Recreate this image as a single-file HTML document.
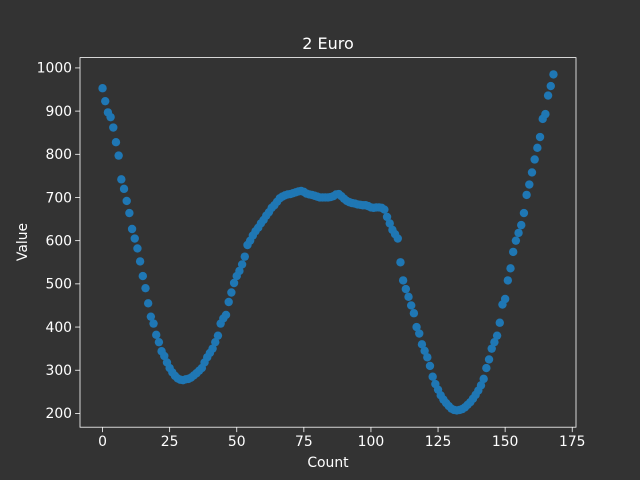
<!DOCTYPE html>
<html><head><meta charset="utf-8"><style>
html,body{margin:0;padding:0;background:#333333;}
svg{display:block;font-family:"DejaVu Sans","Liberation Sans",sans-serif;}
</style></head><body>
<svg id="chart" width="640" height="480" viewBox="0 0 640 480" xmlns="http://www.w3.org/2000/svg">
<rect x="0" y="0" width="640" height="480" fill="#333333"/>
<text x="328" y="49" fill="#ffffff" font-size="16" text-anchor="middle">2 Euro</text>
<g id="points"></g>
<g id="axes"></g>
<text x="328" y="467" fill="#ffffff" font-size="13.9" text-anchor="middle">Count</text>
<text x="27" y="242" fill="#ffffff" font-size="13.9" text-anchor="middle" transform="rotate(-90 27 242)">Value</text>
</svg>
<script>
const values = [953,923,897,886,862,828,797,742,720,692,664,627,605,582,552,518,490,455,424,408,382,365,344,333,318,305,295,287,281,278,277,279,280,283,288,293,299,305,318,330,340,350,365,380,408,420,428,458,480,502,518,530,545,563,590,600,612,622,630,640,648,658,666,676,682,690,698,702,705,707,708,710,712,714,715,713,709,707,706,704,702,700,700,700,700,701,703,707,708,703,697,692,689,687,686,684,683,682,682,680,677,676,677,677,676,672,655,640,625,615,605,550,508,488,470,450,432,400,385,360,345,330,310,285,268,255,242,232,224,217,211,208,207,208,210,214,220,226,234,243,253,265,280,305,325,350,365,380,410,452,465,508,536,574,600,618,636,664,706,730,758,788,815,840,882,893,936,958,985];
const xTicks = [0,25,50,75,100,125,150,175];
const yTicks = [200,300,400,500,600,700,800,900,1000];
const NS="http://www.w3.org/2000/svg";
const L=80,R=576,T=57.6,B=427.2;
const n=values.length;
const xmin=0-(n-1)*0.05, xmax=(n-1)*1.05;
const vmin=Math.min(...values), vmax=Math.max(...values), vr=vmax-vmin;
const ymin=vmin-vr*0.05, ymax=vmax+vr*0.05;
function sx(v){return L+(v-xmin)/(xmax-xmin)*(R-L);}
function sy(v){return B-(v-ymin)/(ymax-ymin)*(B-T);}
const pg=document.getElementById('points');
values.forEach((v,i)=>{
  const c=document.createElementNS(NS,'circle');
  
  
  c.setAttribute('cx',sx(i));c.setAttribute('cy',sy(v));c.setAttribute('r',4.2);
  c.setAttribute('fill','#1f77b4');
  pg.appendChild(c);
});
const ag=document.getElementById('axes');
const frame=document.createElementNS(NS,'rect');


frame.setAttribute('x',L);frame.setAttribute('y',T);frame.setAttribute('width',R-L);frame.setAttribute('height',B-T);
frame.setAttribute('fill','none');frame.setAttribute('stroke','#ffffff');frame.setAttribute('stroke-width','0.8');
ag.appendChild(frame);
xTicks.forEach(t=>{
  const x=sx(t);
  const ln=document.createElementNS(NS,'line');
  
  
  ln.setAttribute('x1',x);ln.setAttribute('x2',x);ln.setAttribute('y1',B);ln.setAttribute('y2',B+4.9);
  ln.setAttribute('stroke','#ffffff');ln.setAttribute('stroke-width','0.8');
  ag.appendChild(ln);
  const tx=document.createElementNS(NS,'text');
  
  
  tx.setAttribute('x',x);tx.setAttribute('y',B+19);tx.setAttribute('fill','#ffffff');
  tx.setAttribute('font-size','13.9');tx.setAttribute('text-anchor','middle');
  tx.textContent=t;ag.appendChild(tx);
});
yTicks.forEach(t=>{
  const y=sy(t);
  const ln=document.createElementNS(NS,'line');
  
  
  ln.setAttribute('x1',L-4.9);ln.setAttribute('x2',L);ln.setAttribute('y1',y);ln.setAttribute('y2',y);
  ln.setAttribute('stroke','#ffffff');ln.setAttribute('stroke-width','0.8');
  ag.appendChild(ln);
  const tx=document.createElementNS(NS,'text');
  
  
  tx.setAttribute('x',L-8);tx.setAttribute('y',y+4.8);tx.setAttribute('fill','#ffffff');
  tx.setAttribute('font-size','13.9');tx.setAttribute('text-anchor','end');
  tx.textContent=t;ag.appendChild(tx);
});
</script>
</body></html>
